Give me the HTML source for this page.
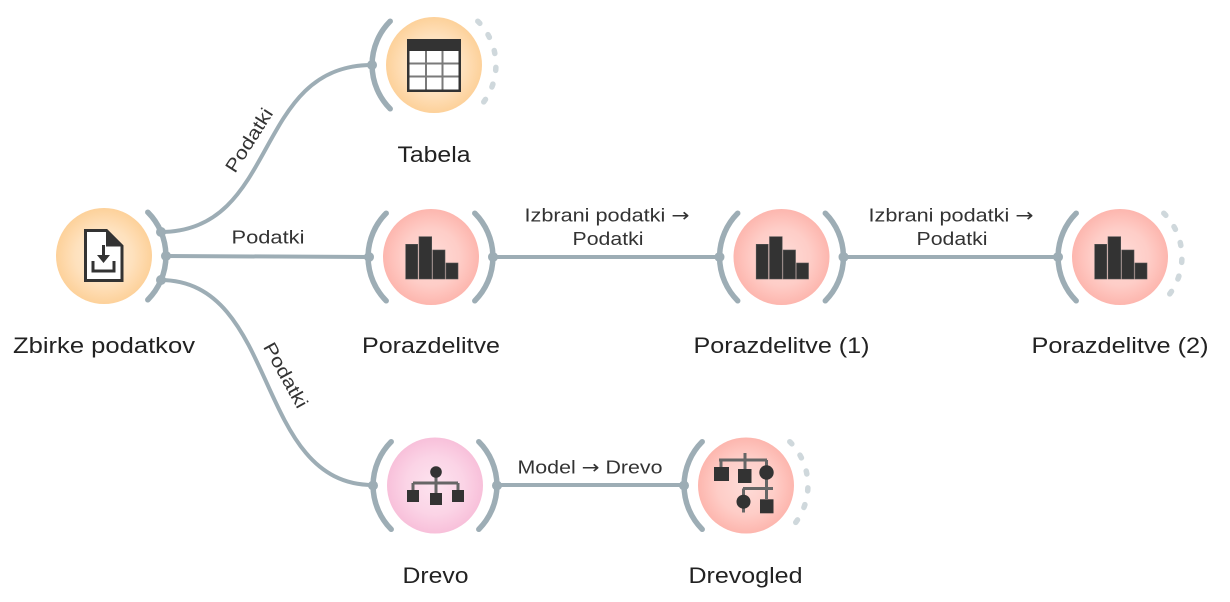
<!DOCTYPE html>
<html>
<head>
<meta charset="utf-8">
<style>
html,body{margin:0;padding:0;background:#fff;}
svg{display:block;}
text{font-family:"Liberation Sans","DejaVu Sans",sans-serif;}
.ar{font-family:"DejaVu Sans",sans-serif;}
</style>
</head>
<body>
<svg width="1230" height="602" viewBox="0 0 1230 602" xmlns="http://www.w3.org/2000/svg">
<defs>
  <radialGradient id="gData" cx="50%" cy="50%" r="50%">
    <stop offset="0" stop-color="#feecd8"/>
    <stop offset="0.6" stop-color="#fee1bd"/>
    <stop offset="1" stop-color="#fdd19a"/>
  </radialGradient>
  <radialGradient id="gVis" cx="50%" cy="50%" r="50%">
    <stop offset="0" stop-color="#fedcd8"/>
    <stop offset="0.6" stop-color="#fecdc7"/>
    <stop offset="1" stop-color="#fdb6ae"/>
  </radialGradient>
  <radialGradient id="gModel" cx="50%" cy="50%" r="50%">
    <stop offset="0" stop-color="#fce4ef"/>
    <stop offset="0.6" stop-color="#fbd4e6"/>
    <stop offset="1" stop-color="#f8c0da"/>
  </radialGradient>
  <g id="bars">
    <rect x="-25.3" y="-12.7" width="12" height="34.7" fill="#333" stroke="#555" stroke-width="0.6"/>
    <rect x="-12" y="-20.3" width="12.7" height="42.3" fill="#333" stroke="#555" stroke-width="0.6"/>
    <rect x="1.7" y="-7" width="12.3" height="29" fill="#333" stroke="#555" stroke-width="0.6"/>
    <rect x="15" y="6" width="12" height="16" fill="#333" stroke="#555" stroke-width="0.6"/>
  </g>
</defs>

<!-- links -->
<g fill="none" stroke="#9dadb5" stroke-width="4" stroke-linecap="round">
  <path d="M160,232 C280,232 252,65 372,65"/>
  <path d="M166,256 L368,257"/>
  <path d="M160,280 C280,280 253,485 373,485"/>
  <path d="M492,257 L720,257"/>
  <path d="M843,257 L1060,257"/>
  <path d="M495,485 L685,485"/>
</g>

<!-- nodes circles -->
<circle cx="104" cy="256" r="48" fill="url(#gData)"/>
<circle cx="434" cy="65" r="48" fill="url(#gData)"/>
<circle cx="431" cy="257" r="48" fill="url(#gVis)"/>
<circle cx="781.5" cy="257" r="48" fill="url(#gVis)"/>
<circle cx="1120" cy="257" r="48" fill="url(#gVis)"/>
<circle cx="435" cy="485.5" r="48" fill="url(#gModel)"/>
<circle cx="746" cy="485.5" r="48" fill="url(#gVis)"/>

<!-- solid anchor arcs -->
<g fill="none" stroke="#9dadb5" stroke-width="5.5" stroke-linecap="round">
  <path d="M147.8,212.2 A62,62 0 0 1 147.8,299.8"/>
  <path d="M390.2,21.2 A62,62 0 0 0 390.2,108.8"/>
  <path d="M386.2,213.2 A62,62 0 0 0 386.2,300.8"/>
  <path d="M474.8,213.2 A62,62 0 0 1 474.8,300.8"/>
  <path d="M737.7,213.2 A62,62 0 0 0 737.7,300.8"/>
  <path d="M825.3,213.2 A62,62 0 0 1 825.3,300.8"/>
  <path d="M1076.2,213.2 A62,62 0 0 0 1076.2,300.8"/>
  <path d="M391.2,441.7 A62,62 0 0 0 391.2,529.3"/>
  <path d="M478.8,441.7 A62,62 0 0 1 478.8,529.3"/>
  <path d="M702.2,441.7 A62,62 0 0 0 702.2,529.3"/>
</g>

<!-- dashed unconnected output arcs -->
<g fill="none" stroke="#cfd8dc" stroke-width="5.5" stroke-linecap="round" stroke-dasharray="3 14">
  <path d="M477.8,21.2 A62,62 0 0 1 477.8,108.8"/>
  <path d="M1163.8,213.2 A62,62 0 0 1 1163.8,300.8"/>
  <path d="M789.8,441.7 A62,62 0 0 1 789.8,529.3"/>
</g>

<!-- anchor dots -->
<g fill="#9dadb5">
  <circle cx="161" cy="232" r="5"/>
  <circle cx="166" cy="256" r="5"/>
  <circle cx="161" cy="280" r="5"/>
  <circle cx="372" cy="65" r="5"/>
  <circle cx="369" cy="257" r="5"/>
  <circle cx="493" cy="257" r="5"/>
  <circle cx="719.5" cy="257" r="5"/>
  <circle cx="843.5" cy="257" r="5"/>
  <circle cx="1058" cy="257" r="5"/>
  <circle cx="373" cy="485.5" r="5"/>
  <circle cx="497" cy="485.5" r="5"/>
  <circle cx="684" cy="485.5" r="5"/>
</g>

<!-- Zbirke icon: document with download arrow -->
<g>
  <path d="M85.5,230.5 H106.5 L122,246 V280.5 H85.5 Z" fill="#fff" stroke="#333" stroke-width="3" stroke-linejoin="miter"/>
  <path d="M106,229 L123.5,246.5 L106,246.5 Z" fill="#333"/>
  <line x1="103.5" y1="245" x2="103.5" y2="258" stroke="#333" stroke-width="3"/>
  <path d="M97,255 L110,255 L103.5,263 Z" fill="#333"/>
  <path d="M93,261 V271 H114 V261" fill="none" stroke="#333" stroke-width="3"/>
</g>

<!-- Tabela icon -->
<g>
  <rect x="407" y="39" width="54" height="53" fill="#333"/>
  <rect x="409.5" y="51" width="49" height="38.5" fill="#fff"/>
  <g stroke="#7a7a7a" stroke-width="2">
    <line x1="426" y1="51" x2="426" y2="89.5"/>
    <line x1="442.5" y1="51" x2="442.5" y2="89.5"/>
    <line x1="409.5" y1="63.5" x2="458.5" y2="63.5"/>
    <line x1="409.5" y1="76.5" x2="458.5" y2="76.5"/>
  </g>
</g>

<!-- bar icons -->
<use href="#bars" transform="translate(431,257)"/>
<use href="#bars" transform="translate(781.5,257)"/>
<use href="#bars" transform="translate(1120,257)"/>

<!-- Drevo icon -->
<g>
  <g stroke="#666" stroke-width="3" fill="none">
    <line x1="436" y1="472" x2="436" y2="483"/>
    <line x1="413" y1="483" x2="458" y2="483"/>
    <line x1="413" y1="483" x2="413" y2="491"/>
    <line x1="436" y1="483" x2="436" y2="494"/>
    <line x1="458" y1="483" x2="458" y2="491"/>
  </g>
  <circle cx="436" cy="472" r="5.8" fill="#333"/>
  <rect x="407" y="490" width="12" height="12" fill="#333"/>
  <rect x="430" y="493" width="12" height="12" fill="#333"/>
  <rect x="452" y="490" width="12" height="12" fill="#333"/>
</g>

<!-- Drevogled icon -->
<g>
  <g stroke="#666" stroke-width="3" fill="none">
    <line x1="745" y1="453" x2="745" y2="461"/>
    <line x1="719" y1="460" x2="767" y2="460"/>
    <line x1="721" y1="460" x2="721" y2="468"/>
    <line x1="745" y1="460" x2="745" y2="470"/>
    <line x1="766.5" y1="460" x2="766.5" y2="499"/>
    <line x1="743" y1="488.5" x2="773" y2="488.5"/>
    <line x1="743.5" y1="488.5" x2="743.5" y2="512.5"/>
  </g>
  <rect x="714" y="467" width="15" height="14" fill="#333"/>
  <rect x="738" y="469" width="13.5" height="14" fill="#333"/>
  <circle cx="766.5" cy="472.5" r="7.2" fill="#333"/>
  <circle cx="743.5" cy="501.7" r="7" fill="#333"/>
  <rect x="760" y="499.3" width="13.5" height="14" fill="#333"/>
</g>

<!-- node labels -->
<g fill="#222" font-size="22" text-anchor="middle">
  <text x="104" y="353" textLength="182" lengthAdjust="spacingAndGlyphs">Zbirke podatkov</text>
  <text x="434" y="162" textLength="73" lengthAdjust="spacingAndGlyphs">Tabela</text>
  <text x="431" y="353" textLength="138" lengthAdjust="spacingAndGlyphs">Porazdelitve</text>
  <text x="781.5" y="353" textLength="176" lengthAdjust="spacingAndGlyphs">Porazdelitve (1)</text>
  <text x="1120" y="353" textLength="177" lengthAdjust="spacingAndGlyphs">Porazdelitve (2)</text>
  <text x="435.5" y="583" textLength="66" lengthAdjust="spacingAndGlyphs">Drevo</text>
  <text x="745.5" y="583" textLength="114" lengthAdjust="spacingAndGlyphs">Drevogled</text>
</g>

<!-- link labels -->
<g fill="#333" font-size="18.5" text-anchor="middle">
  <text x="268" y="243.3" textLength="73" lengthAdjust="spacingAndGlyphs">Podatki</text>
  <text x="607" y="221.7" textLength="165" lengthAdjust="spacingAndGlyphs">Izbrani podatki <tspan class="ar">→</tspan></text>
  <text x="608" y="245" textLength="71" lengthAdjust="spacingAndGlyphs">Podatki</text>
  <text x="951" y="221.7" textLength="165" lengthAdjust="spacingAndGlyphs">Izbrani podatki <tspan class="ar">→</tspan></text>
  <text x="952" y="245" textLength="71" lengthAdjust="spacingAndGlyphs">Podatki</text>
  <text x="590" y="473.3" textLength="145" lengthAdjust="spacingAndGlyphs">Model <tspan class="ar">→</tspan> Drevo</text>
  <text x="0" y="0" transform="translate(254.4,143.6) rotate(-57.5)" textLength="72" lengthAdjust="spacingAndGlyphs">Podatki</text>
  <text x="0" y="0" transform="translate(280.2,378.2) rotate(61)" textLength="72" lengthAdjust="spacingAndGlyphs">Podatki</text>
</g>
</svg>
</body>
</html>
